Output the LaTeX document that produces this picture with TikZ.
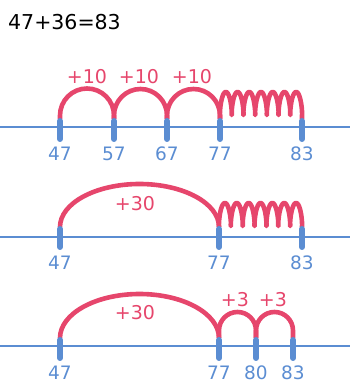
\documentclass[tikz,border=0pt]{standalone}
\usepackage{fontspec}
\setmainfont{DejaVu Sans}
\definecolor{hopred}{HTML}{E6466C}
\definecolor{lineblue}{HTML}{5B8DD2}
\tikzset{
  numline/.style={lineblue, line width=2.5pt},
  tickmark/.style={lineblue, line width=6pt, line cap=round},
  hop/.style={hopred, line width=4.6pt, line join=round},
  numlabel/.style={text=lineblue, inner sep=0pt, font=\fontsize{18.5}{20}\selectfont},
  hoplabel/.style={text=hopred, inner sep=0pt, font=\fontsize{19}{20}\selectfont},
  declare function={coilx(\t,\a,\b)=\a+(\b-\a)/(14*pi)*(\t*pi/180-1.12*sin(\t));
                    coily(\t,\a,\b)=(\a+\b)/2-(\b-\a)/2*cos(\t);}
}

\begin{document}
\begin{tikzpicture}[x=1pt,y=1pt]
  \useasboundingbox (0,0) rectangle (350,383);

  % the sum
  \node[anchor=base west, inner sep=0pt, font=\fontsize{20.5}{22}\selectfont] (sum) at (8,353) {47+36=83};

  % first line: three tens, then the ones
  \coordinate (aw) at (0,256);
  \coordinate (ae) at (350,256);
  \draw[numline] (aw) -- (ae);
  \foreach \n/\x in {47/60,57/114,67/167,77/220,83/302}
    \coordinate (a\n) at (\x,264);
  \draw[hop] (a47) -- ++(0,3.5) arc[start angle=180, end angle=0, radius=27] -- (a57);
  \draw[hop] (a57) -- ++(0,3.5) arc[start angle=180, end angle=0, radius=26.5] -- (a67);
  \draw[hop] (a67) -- ++(0,3.5) arc[start angle=180, end angle=0, radius=26.5] -- (a77);
  \draw[hop] (a77) -- plot[domain=0:2520, samples=281] ({coilx(\x,220,302)},{coily(\x,268,291)}) -- (a83);
  \node[hoplabel] (ta1) at (87,306) {+10};
  \node[hoplabel] (ta2) at (139,306) {+10};
  \node[hoplabel] (ta3) at (192,306) {+10};
  \foreach \n in {47,57,67,77,83} {
    \draw[tickmark] ([yshift=-2pt]a\n) -- ++(0,-18);
    \path (a\n) ++(0,-34.5) node[numlabel] (la\n) {\n};
  }

  % second line: thirty at once, then the ones
  \coordinate (bw) at (0,146);
  \coordinate (be) at (350,146);
  \draw[numline] (bw) -- (be);
  \foreach \n/\x in {47/60,77/219,83/302}
    \coordinate (b\n) at (\x,156);
  \draw[hop] (b47) arc[start angle=180, end angle=0, x radius=79.5, y radius=43];
  \draw[hop] (b77) -- plot[domain=0:2520, samples=281] ({coilx(\x,219,302)},{coily(\x,157,180)}) -- (b83);
  \node[hoplabel] (tb1) at (135,179) {+30};
  \foreach \n in {47,77,83} {
    \draw[tickmark] ([yshift=-2pt]b\n) -- ++(0,-18);
    \path (b\n) ++(0,-36) node[numlabel] (lb\n) {\n};
  }

  % third line: thirty, then two jumps of three
  \coordinate (cw) at (0,37);
  \coordinate (ce) at (350,37);
  \draw[numline] (cw) -- (ce);
  \foreach \n/\x in {47/60,77/219,80/256,83/293}
    \coordinate (c\n) at (\x,45);
  \draw[hop] (c47) arc[start angle=180, end angle=0, x radius=79.5, y radius=44];
  \draw[hop] (c77) -- ++(0,7.5) arc[start angle=180, end angle=0, radius=18.5] -- (c80);
  \draw[hop] (c80) -- ++(0,7.5) arc[start angle=180, end angle=0, radius=18.5] -- (c83);
  \node[hoplabel] (tc1) at (135,70) {+30};
  \node[hoplabel] (tc2) at (235,83) {+3};
  \node[hoplabel] (tc3) at (273,83) {+3};
  \foreach \n in {47,77,80,83} {
    \draw[tickmark] ([yshift=-2pt]c\n) -- ++(0,-18);
    \path (c\n) ++(0,-34.5) node[numlabel] (lc\n) {\n};
  }
\end{tikzpicture}
\end{document}
